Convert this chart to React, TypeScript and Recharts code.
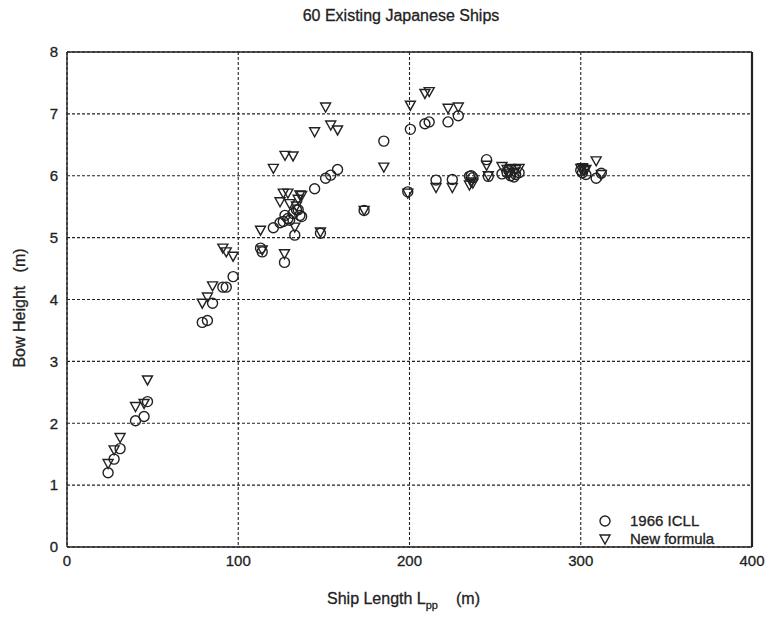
import React from 'react';
import {
  ScatterChart,
  Scatter,
  XAxis,
  YAxis,
  CartesianGrid,
  Label,
} from 'recharts';

// Ship length between perpendiculars (m)
const lpp = [
  24, 27.5, 31, 40, 45, 47, 79, 82, 85, 91,
  93, 97, 113, 114, 120.5, 124.4, 126.3, 127, 127.3, 129,
  132, 133, 134, 136, 137, 144.6, 148, 151, 154, 158,
  173.5, 185, 199, 200.5, 209, 211.5, 215.5, 222.5, 225, 228.5,
  235, 236, 237, 245, 246, 254, 257, 259, 261, 262,
  264, 300, 301, 302, 309, 312, 130, 135, 258, 303,
];

// Bow height by the 1966 ICLL rule (m)
const icll = [
  1.2, 1.42, 1.59, 2.04, 2.11, 2.35, 3.63, 3.66, 3.94, 4.2,
  4.2, 4.37, 4.83, 4.77, 5.16, 5.24, 5.26, 4.6, 5.36, 5.31,
  5.39, 5.04, 5.45, 5.36, 5.34, 5.79, 5.07, 5.96, 6.01, 6.1,
  5.44, 6.56, 5.74, 6.75, 6.84, 6.87, 5.93, 6.87, 5.94, 6.97,
  5.99, 6.0, 5.97, 6.26, 5.99, 6.03, 6.05, 6.0, 5.98, 6.02,
  6.05, 6.09, 6.05, 6.12, 5.96, 6.04, 5.28, 5.45, 6.08, 6.02,
];

// Bow height by the proposed formula (m)
const newFormula = [
  1.35, 1.57, 1.77, 2.27, 2.32, 2.7, 3.94, 4.04, 4.22, 4.83,
  4.77, 4.7, 5.12, 4.8, 6.12, 5.58, 5.72, 4.74, 6.33, 5.72,
  6.32, 5.17, 5.51, 5.69, 5.68, 6.71, 5.09, 7.11, 6.82, 6.74,
  5.44, 6.14, 5.72, 7.14, 7.33, 7.36, 5.81, 7.09, 5.81, 7.11,
  5.85, 5.9, 5.88, 6.17, 6.0, 6.15, 6.1, 6.12, 6.05, 6.1,
  6.12, 6.12, 6.13, 6.08, 6.24, 6.02, 5.55, 5.62, 6.03, 6.1,
];

const xTicks = [0, 100, 200, 300, 400];
const yTicks = [0, 1, 2, 3, 4, 5, 6, 7, 8];

const icllPoints = lpp.map((x, i) => ({ lpp: x, h: icll[i] }));
const newPoints = lpp.map((x, i) => ({ lpp: x, h: newFormula[i] }));

const FONT = '"Liberation Sans", Arial, sans-serif';
const INK = '#222';

const CircleMark = (p: any) => (
  <circle cx={p.cx} cy={p.cy} r={5} fill="none" stroke={INK} strokeWidth={1.4} />
);

const TriangleMark = (p: any) => (
  <path
    d={`M${p.cx - 5},${p.cy - 4} L${p.cx + 5},${p.cy - 4} L${p.cx},${p.cy + 5} Z`}
    fill="none"
    stroke={INK}
    strokeWidth={1.4}
  />
);

const tickStyle = { fontFamily: FONT, fontSize: 15, fill: INK, stroke: INK, strokeWidth: 0.3 };
const textProps = { fontFamily: FONT, fill: INK, stroke: INK, strokeWidth: 0.3 };

export default function App() {
  return (
    <div style={{ position: 'absolute', left: 0, top: 0, width: 770, height: 617, background: '#fff' }}>
      <ScatterChart
        width={770}
        height={617}
        margin={{ top: 51, right: 17, bottom: 40, left: 7 }}
      >
        <CartesianGrid
          xAxisId="bottom"
          yAxisId="left"
          stroke={INK}
          strokeDasharray="3 2"
          strokeWidth={1.1}
        />
        <XAxis
          xAxisId="bottom"
          type="number"
          dataKey="lpp"
          domain={[0, 400]}
          ticks={xTicks}
          height={30}
          tickLine={false}
          tickSize={0}
          tickMargin={8}
          axisLine={{ stroke: INK, strokeWidth: 1.4 }}
          tick={tickStyle}
        >
          <Label
            content={() => (
              <text x={327} y={604} fontSize={16} {...textProps}>
                Ship Length L
                <tspan fontSize={11} dy={5}>pp</tspan>
                <tspan dy={-5} dx={18}>(m)</tspan>
              </text>
            )}
          />
        </XAxis>
        <XAxis
          xAxisId="top"
          orientation="top"
          type="number"
          dataKey="lpp"
          domain={[0, 400]}
          height={1}
          tick={false}
          tickLine={false}
          axisLine={{ stroke: INK, strokeWidth: 1.4 }}
        >
          <Label
            content={() => (
              <text x={401} y={21} textAnchor="middle" fontSize={16} {...textProps}>
                60 Existing Japanese Ships
              </text>
            )}
          />
        </XAxis>
        <YAxis
          yAxisId="left"
          type="number"
          dataKey="h"
          domain={[0, 8]}
          ticks={yTicks}
          width={60}
          tickLine={false}
          tickSize={0}
          tickMargin={9}
          axisLine={{ stroke: INK, strokeWidth: 1.4 }}
          tick={tickStyle}
        >
          <Label
            content={() => (
              <text
                x={25}
                y={308}
                textAnchor="middle"
                transform="rotate(-90 25 308)"
                fontSize={16}
                {...textProps}
              >
                Bow Height{'\u00a0\u00a0\u00a0'}(m)
              </text>
            )}
          />
        </YAxis>
        <YAxis
          yAxisId="right"
          orientation="right"
          type="number"
          dataKey="h"
          domain={[0, 8]}
          width={1}
          tick={false}
          tickLine={false}
          axisLine={{ stroke: INK, strokeWidth: 2.2 }}
        />
        <Scatter
          name="1966 ICLL"
          data={icllPoints}
          xAxisId="bottom"
          yAxisId="left"
          shape={CircleMark}
          isAnimationActive={false}
        />
        <Scatter
          name="New formula"
          data={newPoints}
          xAxisId="bottom"
          yAxisId="left"
          shape={TriangleMark}
          isAnimationActive={false}
        />
      </ScatterChart>
      <div
        style={{
          position: 'absolute',
          left: 597,
          top: 512,
          fontFamily: FONT,
          fontSize: 15,
          color: INK,
          lineHeight: '18px',
          WebkitTextStroke: '0.3px #222',
        }}
      >
        <div style={{ display: 'flex', alignItems: 'center' }}>
          <svg width={16} height={18}>
            <circle cx={8} cy={9} r={5} fill="none" stroke={INK} strokeWidth={1.4} />
          </svg>
          <span style={{ marginLeft: 17 }}>1966 ICLL</span>
        </div>
        <div style={{ display: 'flex', alignItems: 'center' }}>
          <svg width={16} height={18}>
            <path d="M3,5 L13,5 L8,14 Z" fill="none" stroke={INK} strokeWidth={1.4} />
          </svg>
          <span style={{ marginLeft: 17 }}>New formula</span>
        </div>
      </div>
    </div>
  );
}
